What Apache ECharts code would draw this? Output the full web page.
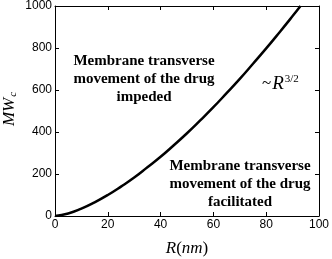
<!DOCTYPE html>
<html>
<head>
<meta charset="utf-8">
<script src="https://cdn.jsdelivr.net/npm/echarts@6/dist/echarts.min.js"></script>
<style>
  html, body { margin: 0; padding: 0; background: #fff; }
  #chart { width: 332px; height: 259px; }
</style>
</head>
<body>
<div id="chart"></div>
<script>
// values
var radius = [0, 5, 10, 15, 20, 25, 30, 35, 40, 45, 50, 55, 60, 65, 70, 75, 80, 85, 90, 93]
var mwc = [0, 12, 35, 65, 100, 140, 183, 232, 282, 337, 394, 455, 518, 585, 653, 725, 798, 874, 952, 1000]
var xTicks = [0, 20, 40, 60, 80, 100]
var yTicks = [0, 200, 400, 600, 800, 1000]

var serif = 'Liberation Serif'
var sans = 'Liberation Sans'

var chart = echarts.init(document.getElementById('chart'))

var points = radius.map(function (r, i) { return [r, mwc[i]] })

function axisBase(pos, show, ticks) {
  return {
    type: 'value',
    position: pos,
    min: ticks[0],
    max: ticks[ticks.length - 1],
    interval: ticks[1] - ticks[0],
    axisLine: { show: true, onZero: false, lineStyle: { color: '#000', width: 1 } },
    axisTick: { show: true, inside: true, length: 4, lineStyle: { color: '#000' } },
    axisLabel: {
      show: show, color: '#000', fontFamily: sans, fontSize: 12, margin: 3,
      formatter: function (v) { return String(v) }
    },
    splitLine: { show: false }
  }
}

var option = {
  animation: false,
  backgroundColor: '#fff',
  grid: { left: 55, right: 13, top: 6, bottom: 43 },
  xAxis: [axisBase('bottom', true, xTicks), axisBase('top', false, xTicks)],
  yAxis: [axisBase('left', true, yTicks), axisBase('right', false, yTicks)],
  series: [
    {
      type: 'line',
      data: points,
      smooth: true,
      showSymbol: false,
      lineStyle: { color: '#000', width: 2.5 }
    }
  ],
  graphic: [
    {
      type: 'text',
      style: {
        x: 144, y: 52, text: 'Membrane transverse\nmovement of the drug\nimpeded',
        align: 'center', fontFamily: serif, fontWeight: 'bold', fontSize: 15,
        lineHeight: 18, fill: '#000'
      }
    },
    {
      type: 'text',
      style: {
        x: 240, y: 157, text: 'Membrane transverse\nmovement of the drug\nfacilitated',
        align: 'center', fontFamily: serif, fontWeight: 'bold', fontSize: 15,
        lineHeight: 18, fill: '#000'
      }
    },
    {
      type: 'text',
      style: {
        x: 262, y: 74,
        text: '{n|~}{r|R}{s|3/2}',
        rich: {
          n: { fontFamily: serif, fontSize: 17, fill: '#000', padding: [0, 1, 0, 0] },
          r: { fontFamily: serif, fontStyle: 'italic', fontSize: 19, fill: '#000' },
          s: { fontFamily: serif, fontSize: 11, fill: '#000', verticalAlign: 'top', padding: [0, 0, 0, 1] }
        }
      }
    },
    {
      type: 'text',
      style: {
        x: 187, y: 240,
        text: '{i|R}{n|(}{i|nm}{n|)}',
        align: 'center',
        rich: {
          i: { fontFamily: serif, fontStyle: 'italic', fontSize: 17, fill: '#000' },
          n: { fontFamily: serif, fontSize: 17, fill: '#000' }
        }
      }
    },
    {
      type: 'text',
      x: 10, y: 109, rotation: Math.PI / 2,
      style: {
        x: 0, y: 0,
        text: '{i|MW}{s|c}',
        align: 'center', verticalAlign: 'middle',
        rich: {
          i: { fontFamily: serif, fontStyle: 'italic', fontSize: 17, fill: '#000' },
          s: { fontFamily: serif, fontStyle: 'italic', fontSize: 11, fill: '#000', verticalAlign: 'bottom', padding: [0, 0, 0, 1] }
        }
      }
    }
  ]
}

chart.setOption(option)
</script>
</body>
</html>
